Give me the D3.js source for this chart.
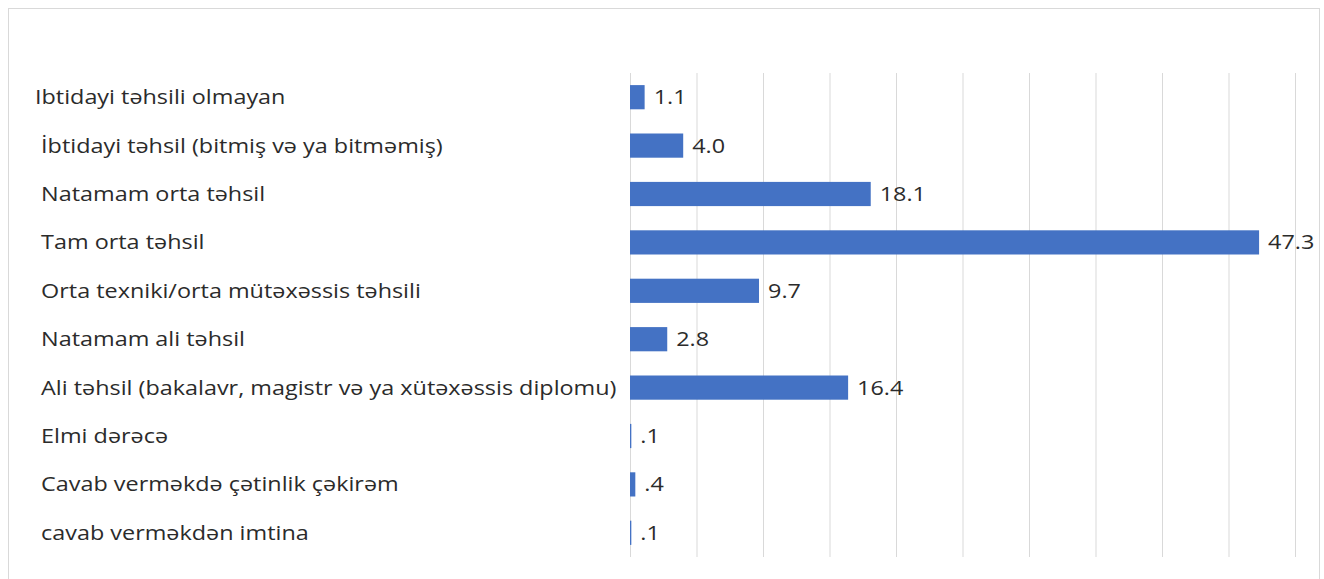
<!DOCTYPE html>
<html lang="az">
<head>
<meta charset="UTF-8">
<title>Təhsil səviyyəsi</title>
<script src="https://d3js.org/d3.v7.min.js"></script>
<style>
    body { margin: 0; background: #fff; }
    svg text { font-family: "Open Sans", sans-serif; white-space: pre; }
</style>
</head>
<body>
<div id="chart"></div>
<script>
    // kateqoriyalar (boşluqlar orijinaldakı kimi saxlanılıb)
    const categories = [
        "Ibtidayi təhsili olmayan",
        " İbtidayi təhsil (bitmiş və ya bitməmiş)",
        " Natamam orta təhsil",
        " Tam orta təhsil",
        " Orta texniki/orta mütəxəssis təhsili",
        " Natamam ali təhsil",
        " Ali təhsil (bakalavr, magistr və ya xütəxəssis diplomu)",
        " Elmi dərəcə",
        " Cavab verməkdə çətinlik çəkirəm",
        " cavab verməkdən imtina"
    ];
    const values = [1.1, 4.0, 18.1, 47.3, 9.7, 2.8, 16.4, 0.1, 0.4, 0.1];
    const gridTicks = [0, 5, 10, 15, 20, 25, 30, 35, 40, 45, 50];

    const width = 1324, height = 579;
    const stretch = 1.17; // mətn bir az enli görünür

    const svg = d3.select("#chart")
        .append("svg")
        .attr("width", width)
        .attr("height", height);

    // çərçivə
    svg.append("rect")
        .attr("x", 8.5).attr("y", 8.5)
        .attr("width", 1311).attr("height", 590)
        .attr("fill", "#fff")
        .attr("stroke", "#d9d9d9");

    const x = d3.scaleLinear().domain([0, 50]).range([630, 1295]);
    const y = d3.scaleBand()
        .domain(categories)
        .range([73, 557])
        .paddingInner(0.5)
        .paddingOuter(0.25);

    // şaquli xətlər
    svg.append("g")
        .selectAll("line")
        .data(gridTicks)
        .join("line")
        .attr("x1", d => x(d) + 0.5)
        .attr("x2", d => x(d) + 0.5)
        .attr("y1", 73)
        .attr("y2", 557)
        .attr("stroke", "#d9d9d9")
        .attr("stroke-width", 1);

    const data = categories.map((c, i) => ({ label: c, value: values[i] }));

    svg.append("g")
        .selectAll("rect")
        .data(data)
        .join("rect")
        .attr("x", x(0))
        .attr("y", d => y(d.label))
        .attr("width", d => x(d.value) - x(0))
        .attr("height", y.bandwidth())
        .attr("fill", "#4472c4");

    const fmt = v => d3.format(".1f")(v).replace(/^0\./, ".");

    // dəyər etiketləri
    svg.append("g")
        .selectAll("text")
        .data(data)
        .join("text")
        .attr("transform", d => `translate(${x(d.value) + 9}, ${y(d.label) + y.bandwidth() / 2}) scale(${stretch}, 1)`)
        .attr("dy", "0.35em")
        .attr("fill", "#2b2b2b")
        .style("font-size", "20px")
        .text(d => fmt(d.value));

    // kateqoriya etiketləri
    svg.append("g")
        .selectAll("text")
        .data(data)
        .join("text")
        .attr("transform", d => `translate(35, ${y(d.label) + y.bandwidth() / 2}) scale(${stretch}, 1)`)
        .attr("dy", "0.35em")
        .attr("fill", "#2b2b2b")
        .style("font-size", "20px")
        .text(d => d.label);
</script>
</body>
</html>
